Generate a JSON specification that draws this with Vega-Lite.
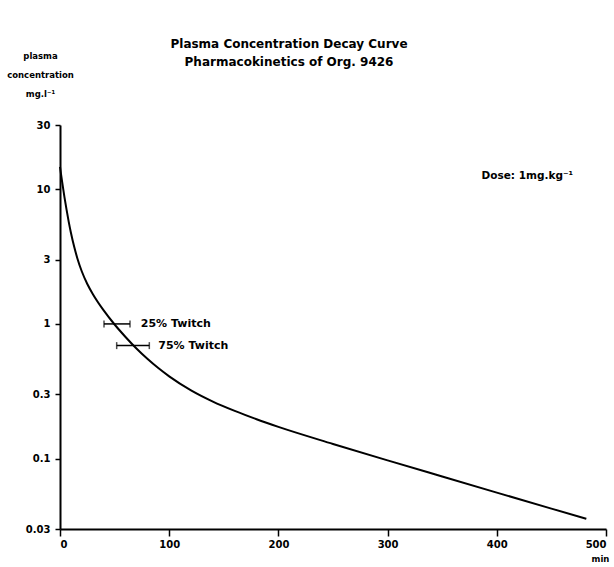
{
  "$schema": "https://vega.github.io/schema/vega-lite/v6.json",
  "autosize": "none",
  "width": 546,
  "height": 404,
  "padding": {"left": 60, "top": 125, "right": 8, "bottom": 38},
  "background": "white",
  "config": {
    "view": {"stroke": null},
    "font": "DejaVu Sans",
    "axis": {"grid": false, "domainColor": "black", "domainWidth": 2, "tickColor": "black", "tickWidth": 1.5, "labelColor": "black", "labelFont": "DejaVu Sans", "labelFontWeight": "bold", "labelFontSize": 10, "titleColor": "black", "titleFont": "DejaVu Sans", "titleFontWeight": "bold", "titleFontSize": 8.5}
  },
  "title": {
    "text": ["Plasma Concentration Decay Curve", "Pharmacokinetics of Org. 9426"],
    "anchor": "middle",
    "dx": -44,
    "offset": -18,
    "fontSize": 12,
    "fontWeight": "bold",
    "font": "DejaVu Sans",
    "color": "black",
    "lineHeight": 18
  },
  "datasets": {
    "curve": [
      {"t": 0, "c": 14.67},
      {"t": 1, "c": 12.84},
      {"t": 2, "c": 11.29},
      {"t": 3, "c": 9.97},
      {"t": 4, "c": 8.83},
      {"t": 6, "c": 7.05},
      {"t": 8, "c": 5.73},
      {"t": 10, "c": 4.76},
      {"t": 13, "c": 3.74},
      {"t": 16, "c": 3.05},
      {"t": 20, "c": 2.45},
      {"t": 25, "c": 1.98},
      {"t": 30, "c": 1.67},
      {"t": 40, "c": 1.26},
      {"t": 50, "c": 0.99},
      {"t": 60, "c": 0.80},
      {"t": 70, "c": 0.657},
      {"t": 80, "c": 0.551},
      {"t": 90, "c": 0.470},
      {"t": 100, "c": 0.408},
      {"t": 120, "c": 0.321},
      {"t": 140, "c": 0.265},
      {"t": 160, "c": 0.226},
      {"t": 180, "c": 0.196},
      {"t": 200, "c": 0.172},
      {"t": 250, "c": 0.1285},
      {"t": 300, "c": 0.097},
      {"t": 350, "c": 0.0736},
      {"t": 400, "c": 0.0559},
      {"t": 450, "c": 0.0425},
      {"t": 482, "c": 0.0357}
    ],
    "bars": [
      {"label": "25% Twitch", "lo": 40.3, "hi": 64.1, "c": 1.0, "tx": 74},
      {"label": "75% Twitch", "lo": 51.9, "hi": 81.8, "c": 0.69, "tx": 90}
    ],
    "notes": [
      {"label": "Dose: 1mg.kg⁻¹", "t": 386, "c": 12.6}
    ]
  },
  "layer": [
    {
      "data": {"name": "curve"},
      "mark": {"type": "line", "color": "black", "strokeWidth": 2, "interpolate": "monotone"},
      "encoding": {
        "x": {"field": "t", "type": "quantitative", "scale": {"domain": [0, 500], "nice": false},
          "axis": {"values": [0, 100, 200, 300, 400, 500], "tickSize": 7, "labelPadding": 3, "title": "min", "titleAngle": 0, "titleX": 540, "titleY": 29, "titleAlign": "center", "titleBaseline": "middle"}},
        "y": {"field": "c", "type": "quantitative", "scale": {"type": "log", "domain": [0.03, 30], "nice": false},
          "axis": {"values": [0.03, 0.1, 0.3, 1, 3, 10, 30], "format": "~g", "tickSize": 5, "labelPadding": 5,
            "title": ["plasma", "concentration", "mg.l⁻¹"], "titleAngle": 0, "titleX": -20, "titleY": -74, "titleAlign": "center", "titleBaseline": "top", "titleLineHeight": 19}}
      }
    },
    {
      "data": {"name": "bars"},
      "mark": {"type": "rule", "color": "black", "strokeWidth": 1.5},
      "encoding": {
        "x": {"field": "lo", "type": "quantitative"},
        "x2": {"field": "hi"},
        "y": {"field": "c", "type": "quantitative"}
      }
    },
    {
      "data": {"name": "bars"},
      "mark": {"type": "tick", "color": "black", "orient": "vertical", "size": 7, "thickness": 1.5},
      "encoding": {
        "x": {"field": "lo", "type": "quantitative"},
        "y": {"field": "c", "type": "quantitative"}
      }
    },
    {
      "data": {"name": "bars"},
      "mark": {"type": "tick", "color": "black", "orient": "vertical", "size": 7, "thickness": 1.5},
      "encoding": {
        "x": {"field": "hi", "type": "quantitative"},
        "y": {"field": "c", "type": "quantitative"}
      }
    },
    {
      "data": {"name": "bars"},
      "mark": {"type": "text", "align": "left", "baseline": "middle", "fontSize": 11, "fontWeight": "bold", "color": "black"},
      "encoding": {
        "x": {"field": "tx", "type": "quantitative"},
        "y": {"field": "c", "type": "quantitative"},
        "text": {"field": "label"}
      }
    },
    {
      "data": {"name": "notes"},
      "mark": {"type": "text", "align": "left", "baseline": "middle", "fontSize": 10.5, "fontWeight": "bold", "color": "black"},
      "encoding": {
        "x": {"field": "t", "type": "quantitative"},
        "y": {"field": "c", "type": "quantitative"},
        "text": {"field": "label"}
      }
    }
  ]
}
